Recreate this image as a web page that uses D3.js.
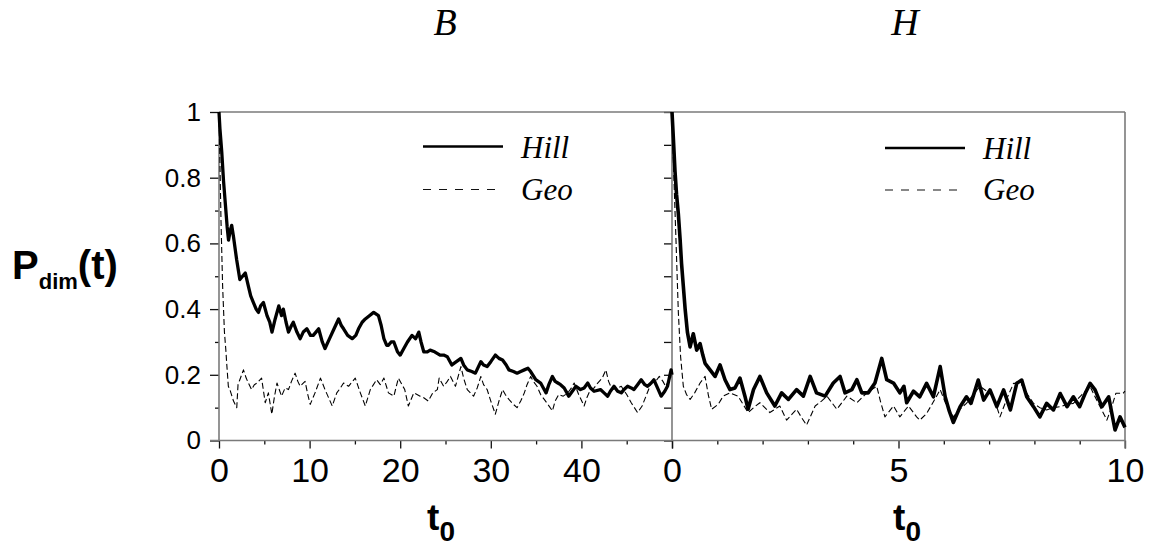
<!DOCTYPE html>
<html>
<head>
<meta charset="utf-8">
<script src="https://cdn.jsdelivr.net/npm/d3@7"></script>
<style>
  html, body { margin: 0; padding: 0; background: #fff; }
  svg { display: block; }
</style>
</head>
<body>
<svg id="chart" width="1149" height="550"></svg>
<script>
// ---------- data ----------
const panelTitles = ["B", "H"];
const seriesNames = ["Hill", "Geo"];
const yTickLabels = ["0", "0.2", "0.4", "0.6", "0.8", "1"];
const yTickValues = [0, 0.2, 0.4, 0.6, 0.8, 1];
const xTicksB = [0, 10, 20, 30, 40, 50];
const xTickLabelsB = ["0", "10", "20", "30", "40", ""];
const xTicksH = [0, 5, 10];
const xTickLabelsH = ["0", "5", "10"];

// Panel B, Hill
const hillB_t = [0,0.1,0.3,0.5,0.7,0.9,1.05,1.25,1.4,1.6,1.95,2.3,2.6,2.9,3.24,3.5,3.8,4.1,4.35,4.6,4.9,5.3,5.6,5.85,6.2,6.6,6.9,7.1,7.4,7.67,8.0,8.2,8.6,8.96,9.3,9.7,10.1,10.4,10.7,11,11.4,11.7,12.2,12.7,13.2,13.5,13.75,14.2,14.7,15.1,15.4,15.8,16.15,16.6,17.07,17.6,17.9,18.2,18.5,18.7,19.0,19.3,19.7,20.0,20.4,20.8,21.3,21.7,22.05,22.3,22.6,23.0,23.3,23.8,24.4,24.8,25.2,25.7,26.2,26.7,27.0,27.4,27.9,28.3,28.9,29.2,29.6,30.0,30.5,30.9,31.3,31.7,32.0,32.5,32.9,33.3,33.7,34.1,34.4,34.96,35.5,35.8,36.1,36.4,36.8,37.1,37.4,37.7,38.1,38.6,39.0,39.4,39.9,40.3,40.7,41.0,41.4,42.1,42.5,42.9,43.2,43.6,44.0,44.4,44.7,45.1,45.5,45.8,46.2,46.6,47.0,47.3,47.7,48.0,48.4,48.8,49.2,49.5,49.7,49.9,50];
const hillB_v = [1,0.95,0.88,0.79,0.72,0.65,0.61,0.64,0.655,0.62,0.55,0.49,0.5,0.51,0.47,0.44,0.42,0.40,0.39,0.41,0.42,0.38,0.36,0.33,0.37,0.41,0.38,0.40,0.36,0.33,0.35,0.36,0.33,0.31,0.33,0.34,0.32,0.32,0.33,0.34,0.30,0.28,0.31,0.34,0.37,0.35,0.34,0.32,0.31,0.32,0.34,0.36,0.37,0.38,0.39,0.38,0.35,0.31,0.29,0.29,0.30,0.30,0.27,0.26,0.28,0.30,0.32,0.31,0.33,0.30,0.27,0.27,0.275,0.27,0.26,0.26,0.255,0.23,0.24,0.25,0.23,0.215,0.21,0.205,0.24,0.23,0.225,0.24,0.26,0.25,0.245,0.23,0.215,0.21,0.205,0.21,0.215,0.22,0.21,0.185,0.175,0.16,0.145,0.17,0.195,0.18,0.175,0.17,0.16,0.135,0.15,0.165,0.155,0.16,0.175,0.16,0.15,0.155,0.145,0.135,0.15,0.165,0.15,0.145,0.155,0.165,0.16,0.155,0.17,0.185,0.17,0.165,0.175,0.185,0.16,0.135,0.15,0.165,0.19,0.215,0.2];

// Panel B, Geo
const geoB_t = [0,0.1,0.22,0.4,0.6,0.77,0.85,1.03,1.2,1.6,1.96,2.1,2.3,2.7,3.0,3.24,3.6,3.9,4.2,4.7,5.1,5.45,5.83,6.1,6.4,6.9,7.3,7.67,8.0,8.4,8.7,8.96,9.5,9.8,10.07,10.6,11.2,11.7,12.1,12.5,13.0,13.4,13.75,14.3,15.04,15.6,16.15,16.7,17.4,17.8,18.2,18.7,19.3,19.8,20.2,20.5,20.9,21.5,22.2,22.6,23.1,23.6,24.1,24.3,24.8,25.2,25.55,26.1,26.7,27.0,27.4,28.1,28.5,28.9,29.2,29.6,30.0,30.5,30.9,31.3,31.6,32.0,32.5,32.9,33.3,33.7,34.0,34.4,34.7,35.1,35.5,35.9,36.3,36.8,37.1,37.5,38.0,38.5,38.9,39.2,39.7,40.3,40.6,41.0,41.4,41.8,42.3,42.7,43.0,43.4,44.0,44.4,45.0,45.5,46.2,46.7,47.2,47.7,48.2,48.6,49.0,49.3,49.6,49.9];
const geoB_v = [1,0.85,0.67,0.47,0.33,0.27,0.235,0.165,0.155,0.12,0.10,0.17,0.185,0.215,0.19,0.175,0.155,0.17,0.175,0.19,0.115,0.145,0.08,0.13,0.175,0.135,0.16,0.155,0.18,0.205,0.18,0.165,0.18,0.14,0.11,0.145,0.19,0.155,0.13,0.105,0.145,0.16,0.175,0.165,0.19,0.145,0.105,0.155,0.185,0.17,0.19,0.145,0.135,0.19,0.17,0.155,0.105,0.145,0.135,0.13,0.12,0.145,0.155,0.19,0.165,0.18,0.195,0.165,0.225,0.19,0.155,0.135,0.16,0.195,0.17,0.155,0.12,0.08,0.12,0.155,0.14,0.125,0.11,0.10,0.12,0.145,0.17,0.195,0.18,0.165,0.14,0.125,0.11,0.09,0.12,0.14,0.135,0.145,0.16,0.175,0.14,0.105,0.13,0.155,0.16,0.175,0.19,0.215,0.18,0.155,0.16,0.165,0.14,0.115,0.085,0.105,0.14,0.175,0.18,0.195,0.18,0.165,0.18,0.195];

// Panel H, Hill
const hillH_t = [0,0.03,0.066,0.1,0.14,0.18,0.21,0.25,0.29,0.34,0.4,0.47,0.545,0.62,0.68,0.73,0.84,0.95,1.06,1.17,1.28,1.39,1.5,1.61,1.68,1.8,1.94,2.09,2.27,2.42,2.57,2.75,2.9,3.05,3.19,3.38,3.56,3.71,3.82,3.97,4.08,4.19,4.33,4.48,4.63,4.74,4.89,5.03,5.12,5.18,5.33,5.47,5.62,5.77,5.92,6.03,6.12,6.21,6.36,6.5,6.6,6.76,6.88,7.02,7.17,7.32,7.47,7.61,7.72,7.83,7.98,8.12,8.27,8.42,8.57,8.72,8.86,9.0,9.12,9.23,9.34,9.49,9.64,9.78,9.89,10];
const hillH_v = [1,0.92,0.82,0.75,0.69,0.61,0.54,0.47,0.40,0.33,0.285,0.325,0.275,0.295,0.26,0.235,0.215,0.195,0.23,0.185,0.155,0.16,0.19,0.135,0.095,0.155,0.195,0.145,0.105,0.145,0.125,0.155,0.135,0.195,0.145,0.135,0.175,0.195,0.145,0.155,0.185,0.145,0.145,0.175,0.25,0.185,0.175,0.145,0.165,0.115,0.15,0.133,0.174,0.133,0.225,0.133,0.09,0.055,0.103,0.133,0.113,0.184,0.123,0.154,0.103,0.154,0.093,0.174,0.184,0.133,0.103,0.072,0.113,0.093,0.143,0.103,0.133,0.103,0.143,0.174,0.154,0.103,0.133,0.032,0.072,0.04];

// Panel H, Geo
const geoH_t = [0,0.044,0.088,0.14,0.19,0.25,0.32,0.4,0.5,0.62,0.73,0.8,0.875,1.02,1.13,1.28,1.46,1.57,1.68,1.8,1.94,2.05,2.16,2.38,2.53,2.65,2.75,2.86,2.97,3.16,3.3,3.42,3.64,3.86,4.08,4.3,4.52,4.6,4.7,4.89,5.03,5.22,5.4,5.47,5.62,5.78,5.92,6.05,6.21,6.35,6.5,6.65,6.8,6.95,7.1,7.24,7.4,7.54,7.7,7.85,7.98,8.12,8.27,8.42,8.57,8.72,8.86,9.05,9.23,9.35,9.45,9.6,9.7,9.8,9.96,10];
const geoH_v = [1,0.79,0.61,0.39,0.255,0.165,0.14,0.125,0.145,0.175,0.195,0.14,0.095,0.11,0.135,0.145,0.135,0.11,0.085,0.1,0.115,0.1,0.085,0.105,0.062,0.08,0.095,0.07,0.047,0.105,0.12,0.135,0.095,0.135,0.115,0.145,0.165,0.12,0.072,0.105,0.072,0.105,0.072,0.062,0.082,0.12,0.155,0.11,0.072,0.095,0.113,0.14,0.165,0.15,0.133,0.072,0.13,0.174,0.174,0.14,0.113,0.1,0.093,0.1,0.103,0.11,0.113,0.14,0.164,0.13,0.103,0.062,0.1,0.144,0.144,0.15];

// ---------- drawing ----------
const svg = d3.select("#chart");
const AX = "#7a7a7a";
const sans = "Arial, 'Liberation Sans', Helvetica, sans-serif";
const serif = "'Times New Roman', 'Liberation Serif', serif";

const plotTop = 112, plotBottom = 440.5;
const y = d3.scaleLinear().domain([0, 1]).range([plotBottom, plotTop]);
const xB = d3.scaleLinear().domain([0, 50]).range([219, 672]);
const xH = d3.scaleLinear().domain([0, 10]).range([672, 1125]);

function styleAxis(g, fontSize) {
  g.select(".domain").remove();
  g.selectAll(".tick line").attr("stroke", "#111").attr("stroke-width", 1.3);
  g.selectAll(".tick text").attr("font-family", sans).attr("font-size", fontSize).attr("fill", "#000");
}

// x axes (major labelled + minor)
function xAxes(x, majors, labels, minors) {
  const gMaj = svg.append("g").attr("transform", `translate(0,${plotBottom})`)
    .call(d3.axisBottom(x).tickValues(majors).tickSize(8).tickPadding(9.5)
      .tickFormat((d, i) => labels[i]));
  styleAxis(gMaj, 34);
  const gMin = svg.append("g").attr("transform", `translate(0,${plotBottom})`)
    .call(d3.axisBottom(x).tickValues(minors).tickSize(4).tickFormat(""));
  styleAxis(gMin, 10);
}
xAxes(xB, xTicksB, xTickLabelsB, [5, 15, 25, 35, 45]);
xAxes(xH, xTicksH, xTickLabelsH, [1, 2, 3, 4, 6, 7, 8, 9]);

// left y axis
const gy = svg.append("g").attr("transform", "translate(219,0)")
  .call(d3.axisLeft(y).tickValues(yTickValues).tickSize(9).tickPadding(9)
    .tickFormat((d, i) => yTickLabels[i]));
styleAxis(gy, 26);
const gyMin = svg.append("g").attr("transform", "translate(219,0)")
  .call(d3.axisLeft(y).tickValues([0.1, 0.3, 0.5, 0.7, 0.9]).tickSize(4).tickFormat(""));
styleAxis(gyMin, 10);
// middle y axis ticks (panel H)
const gyMid = svg.append("g").attr("transform", "translate(672,0)")
  .call(d3.axisLeft(y).tickValues(d3.range(0, 11).map(i => i / 10)).tickSize(8).tickFormat(""));
styleAxis(gyMid, 10);

// frame lines
const frame = svg.append("g").attr("stroke", AX).attr("stroke-width", 1.6).attr("fill", "none");
frame.append("line").attr("x1", 219).attr("x2", 219).attr("y1", plotTop).attr("y2", plotBottom);
frame.append("line").attr("x1", 672).attr("x2", 672).attr("y1", plotTop).attr("y2", plotBottom);
frame.append("line").attr("x1", 1125).attr("x2", 1125).attr("y1", plotTop).attr("y2", plotBottom + 8);
frame.append("line").attr("x1", 210).attr("x2", 1125).attr("y1", plotBottom).attr("y2", plotBottom);
frame.append("line").attr("x1", 219).attr("x2", 1125).attr("y1", plotTop).attr("y2", plotTop);

// series
function drawSeries(x, ts, vs, kind, w) {
  const pts = ts.map((t, i) => [t, vs[i]]);
  const line = d3.line().x(d => x(d[0])).y(d => y(d[1]));
  const p = svg.append("path").datum(pts).attr("d", line).attr("fill", "none")
    .attr("stroke", "#000").attr("stroke-linejoin", "round");
  if (kind === "Hill") p.attr("stroke-width", w);
  else p.attr("stroke-width", 1.1).attr("stroke-dasharray", "6,3");
}
drawSeries(xB, geoB_t, geoB_v, "Geo");
drawSeries(xB, hillB_t, hillB_v, "Hill", 3.3);
drawSeries(xH, geoH_t, geoH_v, "Geo");
drawSeries(xH, hillH_t, hillH_v, "Hill", 3.6);

// legends
function legend(x0, yHill, yGeo) {
  svg.append("line").attr("x1", x0).attr("x2", x0 + 80).attr("y1", yHill).attr("y2", yHill)
    .attr("stroke", "#000").attr("stroke-width", 2.6);
  svg.append("line").attr("x1", x0).attr("x2", x0 + 80).attr("y1", yGeo).attr("y2", yGeo)
    .attr("stroke", "#111").attr("stroke-width", 1.2).attr("stroke-dasharray", "8,8");
  svg.append("text").attr("x", x0 + 98).attr("y", yHill + 11).text(seriesNames[0])
    .attr("font-family", serif).attr("font-style", "italic").attr("font-size", 31);
  svg.append("text").attr("x", x0 + 98).attr("y", yGeo + 10).text(seriesNames[1])
    .attr("font-family", serif).attr("font-style", "italic").attr("font-size", 31);
}
legend(423, 146.5, 189.5);
legend(885, 148, 190);

// panel titles
[[445, panelTitles[0]], [905, panelTitles[1]]].forEach(([cx, t]) => {
  svg.append("text").attr("x", cx).attr("y", 35).attr("text-anchor", "middle").text(t)
    .attr("font-family", serif).attr("font-style", "italic").attr("font-size", 38);
});

// y label
const yl = svg.append("text").attr("x", 12).attr("y", 279)
  .attr("font-family", sans).attr("font-weight", "bold").attr("font-size", 40);
yl.append("tspan").text("P");
yl.append("tspan").attr("font-size", 22).attr("dy", 10).text("dim");
yl.append("tspan").attr("dy", -10).text("(t)");

// x labels
[441, 907].forEach(cx => {
  const t = svg.append("text").attr("x", cx).attr("y", 530).attr("text-anchor", "middle")
    .attr("font-family", sans).attr("font-weight", "bold").attr("font-size", 37);
  t.append("tspan").text("t");
  t.append("tspan").attr("font-size", 28).attr("dy", 11).text("0");
});
</script>
</body>
</html>
